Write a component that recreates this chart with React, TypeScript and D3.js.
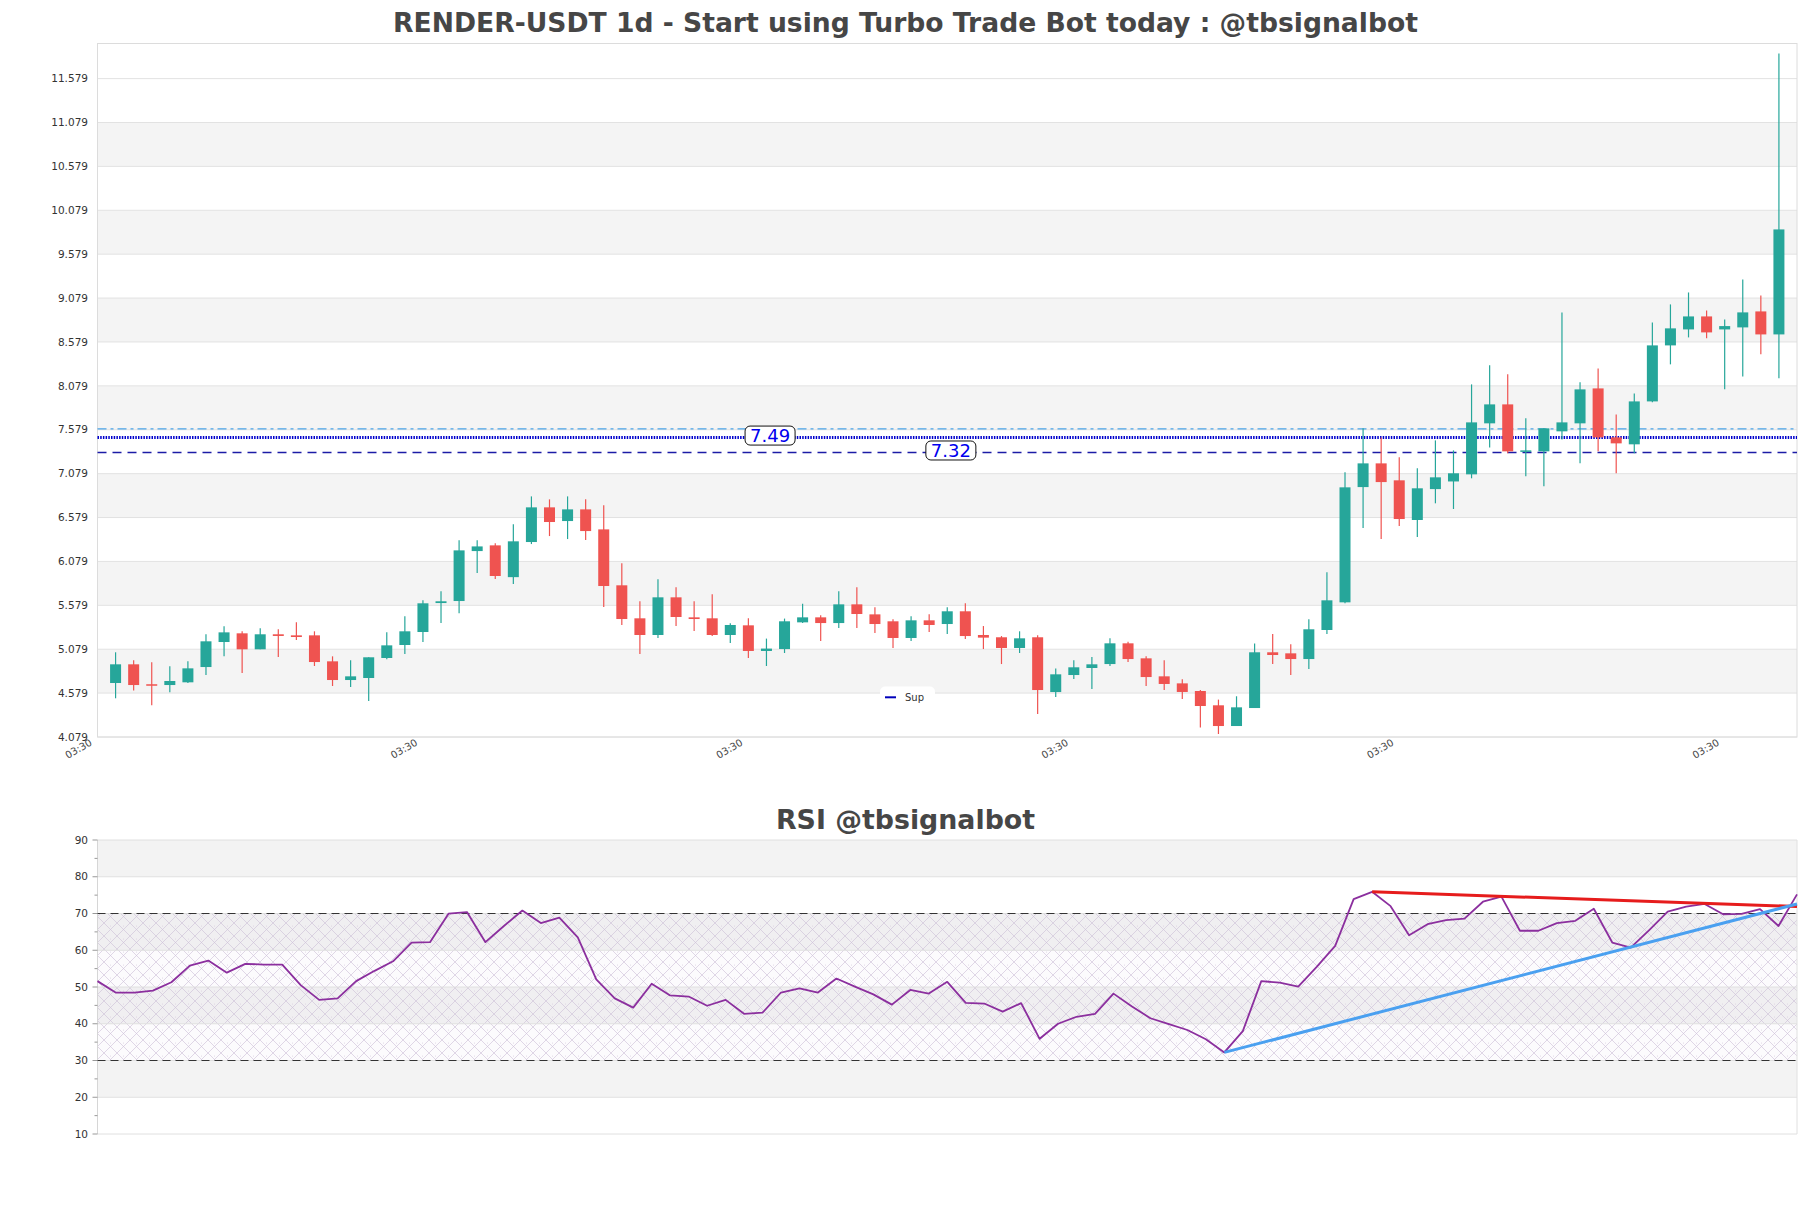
import React from "react";
import * as d3 from "d3";

const opens = [4.694,4.907,4.68,4.671,4.702,4.876,5.161,5.26,5.078,5.249,5.237,5.237,4.941,4.728,4.751,4.979,5.127,5.275,5.605,5.628,6.197,6.262,5.9,6.3,6.695,6.539,6.672,6.444,5.807,5.431,5.241,5.67,5.442,5.431,5.241,5.351,5.059,5.081,5.385,5.442,5.377,5.59,5.476,5.397,5.207,5.408,5.366,5.511,5.241,5.215,5.093,5.215,4.591,4.785,4.865,4.91,5.146,4.975,4.77,4.69,4.603,4.44,4.204,4.409,5.044,5.032,4.967,5.298,5.613,6.926,7.196,7.003,6.551,6.903,6.99,7.071,7.652,7.868,7.333,7.333,7.561,7.652,8.05,7.492,7.413,7.902,8.54,8.722,8.87,8.722,8.745,8.927,8.665];
const highs = [5.044,4.953,4.93,4.884,4.941,5.249,5.34,5.283,5.317,5.306,5.385,5.283,4.998,4.953,4.987,5.271,5.454,5.636,5.738,6.32,6.32,6.285,6.502,6.82,6.786,6.82,6.786,6.718,6.057,5.624,5.875,5.784,5.624,5.704,5.374,5.431,5.2,5.428,5.598,5.465,5.738,5.784,5.556,5.42,5.454,5.476,5.556,5.602,5.343,5.229,5.283,5.237,4.858,4.953,4.99,5.203,5.165,4.998,4.953,4.736,4.614,4.505,4.543,5.143,5.252,5.135,5.42,5.955,7.094,7.595,7.492,7.265,7.14,7.458,7.344,8.096,8.313,8.21,7.709,7.595,8.916,8.119,8.278,7.754,7.993,8.802,9.007,9.143,8.938,8.836,9.29,9.109,11.866];
const lows = [4.52,4.61,4.44,4.588,4.694,4.785,5.0,4.808,5.078,4.99,5.184,4.888,4.66,4.648,4.489,4.964,5.024,5.161,5.377,5.49,5.947,5.879,5.822,6.277,6.368,6.334,6.322,5.56,5.355,5.024,5.207,5.343,5.286,5.229,5.15,4.979,4.888,5.036,5.377,5.172,5.32,5.32,5.264,5.093,5.172,5.275,5.252,5.195,5.081,4.91,5.036,4.341,4.535,4.74,4.626,4.888,4.933,4.66,4.614,4.512,4.186,4.113,4.204,4.409,4.91,4.785,4.853,5.252,5.602,6.46,6.334,6.482,6.357,6.741,6.676,7.026,7.378,7.31,7.048,6.935,7.469,7.196,7.333,7.083,7.31,7.891,8.324,8.631,8.62,8.04,8.187,8.438,8.165];
const closes = [4.907,4.671,4.675,4.717,4.861,5.169,5.271,5.078,5.249,5.23,5.218,4.933,4.728,4.77,4.987,5.123,5.283,5.602,5.625,6.205,6.25,5.913,6.308,6.695,6.528,6.672,6.425,5.799,5.423,5.241,5.67,5.446,5.423,5.241,5.355,5.059,5.086,5.397,5.442,5.377,5.59,5.48,5.366,5.207,5.408,5.355,5.511,5.229,5.211,5.093,5.203,4.614,4.793,4.873,4.907,5.146,4.967,4.762,4.683,4.592,4.432,4.204,4.417,5.044,5.013,4.967,5.306,5.636,6.923,7.196,6.983,6.562,6.912,7.037,7.083,7.663,7.868,7.333,7.344,7.595,7.663,8.039,7.492,7.424,7.902,8.54,8.734,8.87,8.688,8.76,8.916,8.665,9.861];

const rsiValues = [51.6,48.45,48.45,49.0,51.3,55.8,57.2,53.9,56.3,56.1,56.1,50.5,46.5,46.9,51.6,54.4,57.0,62.1,62.2,69.95,70.4,62.2,66.6,70.8,67.4,68.9,63.5,52.1,46.9,44.4,50.9,47.7,47.4,44.9,46.5,42.7,43.0,48.5,49.6,48.5,52.3,50.1,48.0,45.2,49.2,48.2,51.4,45.7,45.5,43.3,45.6,35.9,40.0,41.9,42.7,48.2,44.7,41.5,39.9,38.3,35.8,32.2,38.0,51.6,51.2,50.1,55.5,61.2,73.9,75.9,72.0,64.1,67.1,68.2,68.6,73.2,74.6,65.3,65.3,67.4,68.0,71.3,62.1,60.7,65.5,70.5,71.9,72.6,69.8,69.9,71.2,66.6,75.2];

const priceTickLabels = ["4.079","4.579","5.079","5.579","6.079","6.579","7.079","7.579","8.079","8.579","9.079","9.579","10.079","10.579","11.079","11.579"];
const rsiTickLabels = ["10","20","30","40","50","60","70","80","90"];
const rsiMinorTicks = [15,25,35,45,55,65,75,85];
const xTickIndices = [-1,17,35,53,71,89];
const xTickLabels = ["03:30","03:30","03:30","03:30","03:30","03:30"];

const resLevel = 7.59;
const pivotLevel = 7.49;
const supLevel = 7.32;
const pivotLabel = "7.49";
const supLabel = "7.32";
const redTrend = [[69, 75.9],[92, 71.9]];
const blueTrend = [[61, 32.2],[92, 72.6]];

const title = "RENDER-USDT 1d - Start using Turbo Trade Bot today : @tbsignalbot";
const rsiTitle = "RSI @tbsignalbot";

const FONT = "DejaVu Sans, sans-serif";
const GREEN = "#26a69a";
const RED = "#ef5350";

export default function App() {
  const L = 97.5, R = 1797, T = 43.5, B = 737;
  const N = opens.length;
  const x = d3.scaleLinear().domain([-1, N]).range([L, R]);
  const y = d3.scaleLinear().domain([4.079, 11.979]).range([B, T]);
  const rT = 840, rB = 1134;
  const rx = d3.scaleLinear().domain([0, rsiValues.length - 1]).range([L, R]);
  const ry = d3.scaleLinear().domain([10, 90]).range([rB, rT]);
  const priceTicks = priceTickLabels.map(Number);
  const rsiTicks = rsiTickLabels.map(Number);
  const rsiLine = d3.line<number>().x((_, i) => rx(i)).y((v) => ry(v))(rsiValues) || "";
  const bw = 11;

  return (
    <svg width={1811} height={1208} style={{ position: "absolute", left: 0, top: 0, background: "#fff" }} xmlns="http://www.w3.org/2000/svg">
      <defs>
        <pattern id="hatch" patternUnits="userSpaceOnUse" width={13} height={13}>
          <path d="M0,0 L13,13 M13,0 L0,13" stroke="#cbbdd6" strokeWidth={0.6} fill="none" />
          <circle cx={6.5} cy={3} r={0.5} fill="#d8cce0" />
        </pattern>
      </defs>
      <rect x={0} y={0} width={1811} height={1208} fill="#fff" />
      <text x={905.5} y={32} textAnchor="middle" fontFamily={FONT} fontWeight="bold" fontSize={26.6} fill="#464646">{title}</text>

      {/* main bands */}
      {priceTicks.slice(0, -1).map((t, k) => (
        k % 2 === 1 ? <rect key={"b" + k} x={L} y={y(priceTicks[k + 1])} width={R - L} height={y(t) - y(priceTicks[k + 1])} fill="#f4f4f4" /> : null
      ))}
      {priceTicks.map((t, k) => (
        <line key={"g" + k} x1={L} x2={R} y1={y(t)} y2={y(t)} stroke="#e2e2e2" strokeWidth={1} />
      ))}
      <rect x={L} y={T} width={R - L} height={B - T} fill="none" stroke="#dcdcdc" strokeWidth={1} />
      {priceTickLabels.map((lab, k) => (
        <text key={"yl" + k} x={88} y={y(priceTicks[k])} dy="0.35em" textAnchor="end" fontFamily={FONT} fontSize={10.5} fill="#333">{lab}</text>
      ))}
      {xTickIndices.map((ti, k) => (
        <text key={"xl" + k} transform={`translate(${x(ti) - 6.5},${741.5}) rotate(-30)`} textAnchor="end" dy="0.35em" fontFamily={FONT} fontSize={10} fill="#444">{xTickLabels[k]}</text>
      ))}

      {/* levels */}
      <line x1={L} x2={R} y1={y(resLevel)} y2={y(resLevel)} stroke="#4aa3e6" strokeWidth={1.3} strokeDasharray="9,4,3,4" />
      <line x1={L} x2={R} y1={y(pivotLevel)} y2={y(pivotLevel)} stroke="#0000cc" strokeWidth={3} strokeDasharray="1.5,1.2" />
      <line x1={L} x2={R} y1={y(supLevel)} y2={y(supLevel)} stroke="#1c1ca6" strokeWidth={1.4} strokeDasharray="9,6" />

      {/* candles */}
      {opens.map((o, i) => {
        const c = closes[i];
        const up = c >= o;
        const col = up ? GREEN : RED;
        const top = y(Math.max(o, c));
        const bot = y(Math.min(o, c));
        const cx = x(i);
        return (
          <g key={"c" + i}>
            <line x1={cx} x2={cx} y1={y(highs[i])} y2={y(lows[i])} stroke={col} strokeWidth={1.2} />
            <rect x={cx - bw / 2} y={top} width={bw} height={Math.max(bot - top, 1.5)} fill={col} />
          </g>
        );
      })}

      {/* level labels */}
      <g>
        <rect x={x(36.2) - 25} y={y(pivotLevel) - 11.5} width={50} height={19} rx={5} fill="#fff" stroke="#111" strokeWidth={1} />
        <text x={x(36.2)} y={y(pivotLevel) - 2} dy="0.35em" textAnchor="middle" fontFamily={FONT} fontSize={18} fill="#0000ee">{pivotLabel}</text>
        <rect x={x(46.2) - 25} y={y(supLevel) - 11.5} width={50} height={19} rx={5} fill="#fff" stroke="#111" strokeWidth={1} />
        <text x={x(46.2)} y={y(supLevel) - 2} dy="0.35em" textAnchor="middle" fontFamily={FONT} fontSize={18} fill="#0000ee">{supLabel}</text>
      </g>

      {/* legend */}
      <rect x={880} y={686.5} width={55} height={20} rx={5} fill="#fff" />
      <line x1={885} x2={896} y1={697.3} y2={697.3} stroke="#0000bb" strokeWidth={2} />
      <text x={905} y={697} dy="0.35em" fontFamily={FONT} fontSize={10} fill="#333">Sup</text>

      {/* RSI panel */}
      <text x={905.5} y={829} textAnchor="middle" fontFamily={FONT} fontWeight="bold" fontSize={26.8} fill="#464646">{rsiTitle}</text>
      {rsiTicks.slice(0, -1).map((t, k) => (
        k % 2 === 1 ? <rect key={"rb" + k} x={L} y={ry(rsiTicks[k + 1])} width={R - L} height={ry(t) - ry(rsiTicks[k + 1])} fill="#f3f3f3" /> : null
      ))}
      <rect x={L} y={ry(70)} width={R - L} height={ry(30) - ry(70)} fill="#b49bc8" fillOpacity={0.04} />
      <rect x={L} y={ry(70)} width={R - L} height={ry(30) - ry(70)} fill="url(#hatch)" />
      {rsiTicks.map((t, k) => (
        <line key={"rg" + k} x1={L} x2={R} y1={ry(t)} y2={ry(t)} stroke="#e0e0e0" strokeWidth={1} />
      ))}
      <line x1={L} x2={L} y1={rT} y2={rB} stroke="#d6d6d6" strokeWidth={1} />
      <line x1={R} x2={R} y1={rT} y2={rB} stroke="#e0e0e0" strokeWidth={1} />
      {rsiTicks.map((t, k) => (
        <g key={"rt" + k}>
          <line x1={L - 5} x2={L} y1={ry(t)} y2={ry(t)} stroke="#999" strokeWidth={1} />
          <text x={88} y={ry(t)} dy="0.35em" textAnchor="end" fontFamily={FONT} fontSize={10.5} fill="#333">{rsiTickLabels[k]}</text>
        </g>
      ))}
      {rsiMinorTicks.map((t, k) => (
        <line key={"rm" + k} x1={L - 3} x2={L} y1={ry(t)} y2={ry(t)} stroke="#999" strokeWidth={1} />
      ))}
      <line x1={L} x2={R} y1={ry(70)} y2={ry(70)} stroke="#333" strokeWidth={1.2} strokeDasharray="8,5" />
      <line x1={L} x2={R} y1={ry(30)} y2={ry(30)} stroke="#333" strokeWidth={1.2} strokeDasharray="8,5" />
      <path d={rsiLine} fill="none" stroke="#8b2f9e" strokeWidth={1.8} strokeLinejoin="round" />
      <line x1={rx(redTrend[0][0])} y1={ry(redTrend[0][1])} x2={rx(redTrend[1][0])} y2={ry(redTrend[1][1])} stroke="#e61c1c" strokeWidth={3} />
      <line x1={rx(blueTrend[0][0])} y1={ry(blueTrend[0][1])} x2={rx(blueTrend[1][0])} y2={ry(blueTrend[1][1])} stroke="#4aa0f0" strokeWidth={3} />
    </svg>
  );
}
